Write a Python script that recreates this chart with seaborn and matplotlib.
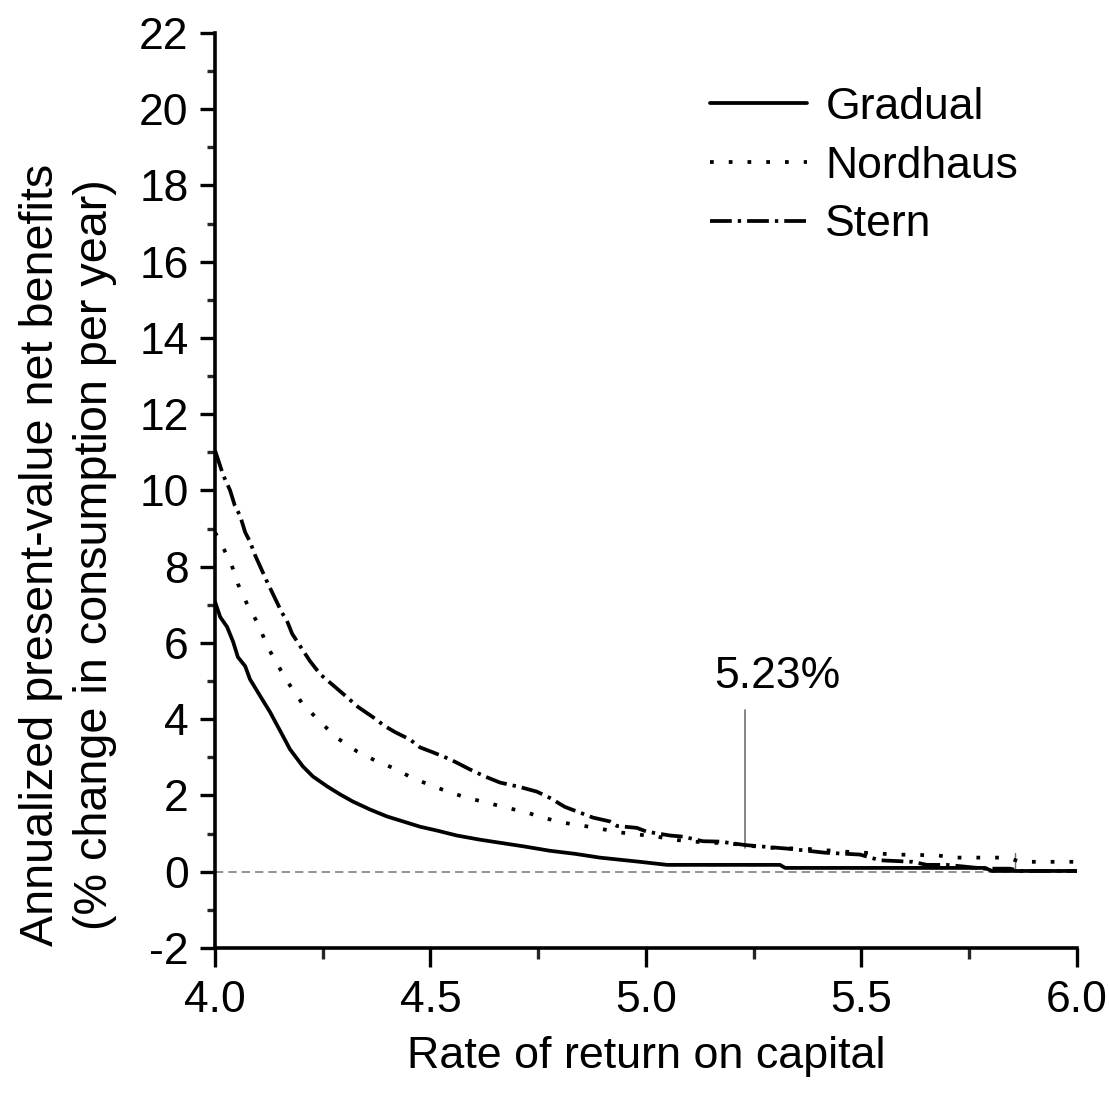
import matplotlib
matplotlib.use("Agg")
import matplotlib.pyplot as plt
import seaborn as sns
import numpy as np
import pandas as pd

# ---- data ----
gradual_x = [4.000, 4.012, 4.028, 4.042, 4.053, 4.070, 4.081, 4.109, 4.128, 4.158, 4.174,
             4.204, 4.227, 4.260, 4.290, 4.320, 4.360, 4.399, 4.436, 4.476, 4.515, 4.561,
             4.615, 4.661, 4.719, 4.777, 4.835, 4.893, 4.986, 5.049, 5.311, 5.323, 5.787,
             5.803, 6.000]
gradual_y = [7.08, 6.68, 6.42, 6.03, 5.63, 5.39, 5.05, 4.53, 4.18, 3.55, 3.21,
             2.76, 2.50, 2.24, 2.03, 1.84, 1.63, 1.45, 1.32, 1.18, 1.08, 0.95,
             0.84, 0.76, 0.66, 0.55, 0.47, 0.37, 0.26, 0.18, 0.18, 0.10, 0.10,
             0.02, 0.02]

nordhaus_x = [4.000, 4.012, 4.039, 4.053, 4.074, 4.100, 4.121, 4.144, 4.169, 4.202, 4.244,
              4.283, 4.329, 4.371, 4.418, 4.459, 4.503, 4.545, 4.585, 4.638, 4.677, 4.724,
              4.761, 4.805, 4.852, 4.893, 4.940, 4.986, 5.026, 5.063, 5.109, 5.155, 5.195,
              5.241, 5.283, 5.374, 5.457, 5.582, 5.675, 5.717, 5.840, 5.868, 6.000]
nordhaus_y = [8.90, 8.66, 8.03, 7.55, 7.03, 6.50, 5.92, 5.45, 4.97, 4.42, 3.93,
              3.51, 3.16, 2.92, 2.70, 2.45, 2.26, 2.08, 1.94, 1.79, 1.68, 1.55,
              1.42, 1.29, 1.21, 1.13, 1.03, 0.97, 0.92, 0.84, 0.79, 0.76, 0.74,
              0.68, 0.63, 0.60, 0.53, 0.45, 0.43, 0.37, 0.37, 0.26, 0.26]

stern_x = [4.000, 4.019, 4.035, 4.046, 4.058, 4.070, 4.081, 4.093, 4.109, 4.121, 4.132,
           4.155, 4.167, 4.179, 4.202, 4.220, 4.244, 4.271, 4.306, 4.332, 4.367, 4.394,
           4.418, 4.452, 4.476, 4.506, 4.545, 4.568, 4.592, 4.626, 4.661, 4.708, 4.747,
           4.780, 4.800, 4.812, 4.847, 4.877, 4.916, 4.933, 4.979, 5.002, 5.056, 5.086,
           5.132, 5.172, 5.230, 5.271, 5.334, 5.415, 5.497, 5.543, 5.619, 5.652, 5.698,
           5.787, 5.845, 5.868, 6.000]
stern_y = [11.05, 10.40, 10.00, 9.60, 9.34, 8.90, 8.66, 8.30, 7.90, 7.60, 7.34,
           6.80, 6.58, 6.24, 5.84, 5.53, 5.18, 4.92, 4.58, 4.32, 4.05, 3.82,
           3.66, 3.47, 3.26, 3.13, 2.95, 2.82, 2.68, 2.50, 2.34, 2.22, 2.10,
           1.92, 1.78, 1.70, 1.55, 1.42, 1.32, 1.20, 1.15, 1.05, 0.95, 0.92,
           0.80, 0.79, 0.70, 0.66, 0.60, 0.50, 0.45, 0.30, 0.26, 0.18, 0.18,
           0.08, 0.08, 0.02, 0.02]

series_names = ["Gradual", "Nordhaus", "Stern"]
annot_label = "5.23%"
annot_x = 5.23
annot_y = (0.63, 4.24)
annot2_x = 5.856
annot2_y = (0.05, 0.50)

x_ticks = [4.0, 4.5, 5.0, 5.5, 6.0]
y_ticks = list(range(-2, 23, 2))

# ---- styling ----
sns.set_theme(style="ticks")
plt.rcParams["font.family"] = ["Liberation Sans", "DejaVu Sans"]
plt.rcParams["text.color"] = "black"
plt.rcParams["axes.labelcolor"] = "black"

fig = plt.figure(figsize=(11.09, 11.05), dpi=100)
ax = fig.add_axes([0.1939, 0.1421, 0.7771, 0.8281])

lw = 2.7
styles = {
    "Gradual": "-",
    "Nordhaus": (0, (1.0, 4.0)),
    "Stern": (0, (5.8, 1.6, 0.9, 1.6)),
}
data = {
    "Gradual": (gradual_x, gradual_y),
    "Nordhaus": (nordhaus_x, nordhaus_y),
    "Stern": (stern_x, stern_y),
}

# zero reference line
ax.axhline(0, color="#808080", lw=1.2, linestyle=(0, (5, 3)), zorder=1)

for name in series_names:
    xs, ys = data[name]
    df = pd.DataFrame({"x": xs, "y": ys})
    sns.lineplot(data=df, x="x", y="y", ax=ax, color="black", lw=lw,
                 linestyle=styles[name], estimator=None, sort=False,
                 label=name, zorder=3)

# annotation lines
ax.plot([annot_x, annot_x], list(annot_y), color="#707070", lw=1.2, zorder=2)
ax.plot([annot2_x, annot2_x], list(annot2_y), color="#707070", lw=1.0, zorder=2)
ax.text(5.306, 5.12, annot_label, ha="center", va="center", fontsize=32, color="black")

ax.set_xlim(4.0, 6.0)
ax.set_ylim(-2, 22)
ax.set_xticks(x_ticks)
ax.set_xticklabels([f"{v:.1f}" for v in x_ticks])
ax.set_yticks(y_ticks)
ax.set_yticklabels([str(v) for v in y_ticks])
ax.set_xticks(np.arange(4.25, 6.0, 0.5), minor=True)
ax.set_yticks(np.arange(-1, 22, 2), minor=True)

for s in ["top", "right"]:
    ax.spines[s].set_visible(False)
for s in ["left", "bottom"]:
    ax.spines[s].set_linewidth(2.6)
    ax.spines[s].set_color("black")

ax.tick_params(axis="x", which="major", length=14, width=2.4, direction="out",
               labelsize=32, pad=9, colors="black")
ax.tick_params(axis="x", which="minor", length=8, width=2.4, direction="out")
ax.tick_params(axis="y", which="major", length=11, width=2.4, direction="out",
               labelsize=32, pad=8, colors="black")
ax.tick_params(axis="y", which="minor", length=6, width=2.4, direction="out")

ax.set_xlabel("Rate of return on capital", fontsize=32.3, labelpad=11, color="black")
ax.set_ylabel("Annualized present-value net benefits\n(% change in consumption per year)",
              fontsize=33.7, color="black", linespacing=1.3, va="center", ha="center")
ax.yaxis.set_label_coords(-0.171, 0.43)

leg = ax.legend(loc="upper left", bbox_to_anchor=(0.574, 0.941), frameon=False,
                fontsize=32, handlelength=2.2, handletextpad=0.4, labelspacing=0.4,
                borderpad=0, borderaxespad=0)
for line in leg.get_lines():
    line.set_linewidth(lw)
for t in leg.get_texts():
    t.set_color("black")

ax.grid(False)
fig.savefig("out.png", dpi=100)
